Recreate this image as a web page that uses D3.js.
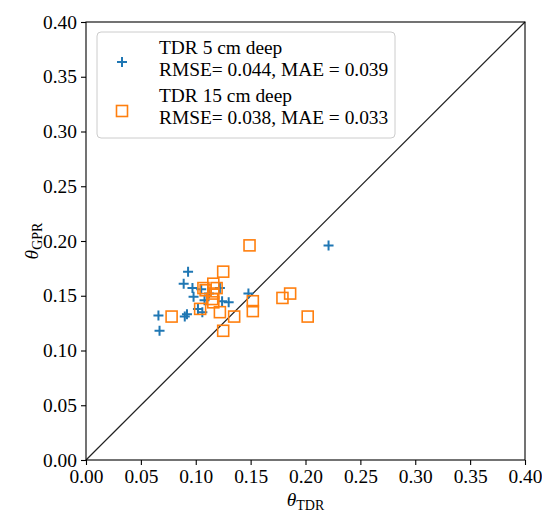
<!DOCTYPE html>
<html>
<head>
<meta charset="utf-8">
<script src="https://cdn.jsdelivr.net/npm/d3@7"></script>
<style>
  body { margin: 0; background: #fff; }
  svg text { font-family: "Times New Roman", "Liberation Serif", Tinos, "DejaVu Serif", serif; }
</style>
</head>
<body>
<svg width="542" height="515"></svg>
<script>
(function () {

  // TDR 5 cm deep: theta TDR / theta GPR
  const tdr5X = [0.066, 0.067, 0.089, 0.090, 0.092, 0.093, 0.097, 0.098, 0.102, 0.106, 0.105, 0.108, 0.112, 0.122, 0.124, 0.130, 0.148, 0.221];
  const tdr5Y = [0.132, 0.118, 0.161, 0.131, 0.133, 0.172, 0.157, 0.149, 0.138, 0.135, 0.156, 0.146, 0.152, 0.157, 0.145, 0.144, 0.152, 0.196];

  // TDR 15 cm deep
  const tdr15X = [0.078, 0.104, 0.107, 0.109, 0.116, 0.119, 0.116, 0.115, 0.116, 0.122, 0.125, 0.125, 0.135, 0.149, 0.152, 0.152, 0.179, 0.186, 0.202];
  const tdr15Y = [0.131, 0.138, 0.157, 0.155, 0.161, 0.157, 0.152, 0.147, 0.144, 0.135, 0.172, 0.118, 0.131, 0.196, 0.145, 0.136, 0.148, 0.152, 0.131];

  const ticks = [0.00, 0.05, 0.10, 0.15, 0.20, 0.25, 0.30, 0.35, 0.40];
  const legendLines = [
    ["TDR 5 cm deep", "RMSE= 0.044, MAE = 0.039"],
    ["TDR 15 cm deep", "RMSE= 0.038, MAE = 0.033"]
  ];

  const left = 86, top = 22, right = 525, bottom = 460;
  const fontSize = 19.4;
  const serif = '"Times New Roman", "Liberation Serif", Tinos, "DejaVu Serif", serif';

  const x = d3.scaleLinear().domain([0, 0.4]).range([left, right]);
  const y = d3.scaleLinear().domain([0, 0.4]).range([bottom, top]);

  const svg = d3.select("svg");

  // 1:1 line
  svg.append("line")
    .attr("x1", x(0)).attr("y1", y(0))
    .attr("x2", x(0.4)).attr("y2", y(0.4))
    .attr("stroke", "#222").attr("stroke-width", 1.2);

  // plus markers
  const blue = "#1f77b4", orange = "#ff7f0e";
  const plusPath = "M-5,0H5M0,-5V5";
  svg.append("g").selectAll("path")
    .data(d3.zip(tdr5X, tdr5Y))
    .enter().append("path")
    .attr("d", plusPath)
    .attr("transform", d => `translate(${x(d[0])},${y(d[1])})`)
    .attr("stroke", blue).attr("stroke-width", 2).attr("fill", "none");

  svg.append("g").selectAll("rect")
    .data(d3.zip(tdr15X, tdr15Y))
    .enter().append("rect")
    .attr("x", d => x(d[0]) - 5.5).attr("y", d => y(d[1]) - 5.5)
    .attr("width", 11).attr("height", 11)
    .attr("stroke", orange).attr("stroke-width", 1.6).attr("fill", "none");

  // axes
  const xAxis = svg.append("g")
    .attr("transform", `translate(0,${bottom})`)
    .call(d3.axisBottom(x).tickValues(ticks).tickFormat(d3.format(".2f")).tickSize(5).tickPadding(4));
  const yAxis = svg.append("g")
    .attr("transform", `translate(${left},0)`)
    .call(d3.axisLeft(y).tickValues(ticks).tickFormat(d3.format(".2f")).tickSize(5).tickPadding(4));
  [xAxis, yAxis].forEach(g => {
    g.attr("font-family", null);
    g.select(".domain").remove();
    g.selectAll("line").attr("stroke", "#000").attr("stroke-width", 1.1);
    g.selectAll("text").attr("font-size", fontSize).attr("fill", "#000")
      .style("font-family", serif);
  });

  // frame
  svg.append("rect")
    .attr("x", left).attr("y", top)
    .attr("width", right - left).attr("height", bottom - top)
    .attr("fill", "none").attr("stroke", "#000").attr("stroke-width", 1.1);

  // axis labels
  const xl = svg.append("text")
    .attr("x", (left + right) / 2).attr("y", 506)
    .attr("text-anchor", "middle").attr("font-size", fontSize)
    .style("font-family", serif);
  xl.append("tspan").attr("font-style", "italic").text("θ");
  xl.append("tspan").attr("font-size", 14).attr("dy", 4).text("TDR");

  const yl = svg.append("text")
    .attr("transform", `translate(38,${(top + bottom) / 2}) rotate(-90)`)
    .attr("text-anchor", "middle").attr("font-size", fontSize)
    .style("font-family", serif);
  yl.append("tspan").attr("font-style", "italic").text("θ");
  yl.append("tspan").attr("font-size", 14).attr("dy", 4).text("GPR");

  // legend
  const lg = svg.append("g");
  lg.append("rect")
    .attr("x", 97).attr("y", 32).attr("width", 298).attr("height", 106)
    .attr("rx", 4).attr("fill", "#fff").attr("fill-opacity", 0.8)
    .attr("stroke", "#ccc").attr("stroke-width", 1);
  lg.append("path").attr("d", plusPath)
    .attr("transform", "translate(122,62)")
    .attr("stroke", blue).attr("stroke-width", 2);
  lg.append("rect").attr("x", 116.5).attr("y", 105.5).attr("width", 11).attr("height", 11)
    .attr("stroke", orange).attr("stroke-width", 1.6).attr("fill", "none");
  legendLines.forEach((lines, i) => {
    lines.forEach((t, j) => {
      lg.append("text")
        .attr("x", 159).attr("y", 54 + i * 48 + j * 22)
        .attr("font-size", fontSize).attr("fill", "#000")
        .style("font-family", serif)
        .text(t);
    });
  });
})();
</script>
</body>
</html>
